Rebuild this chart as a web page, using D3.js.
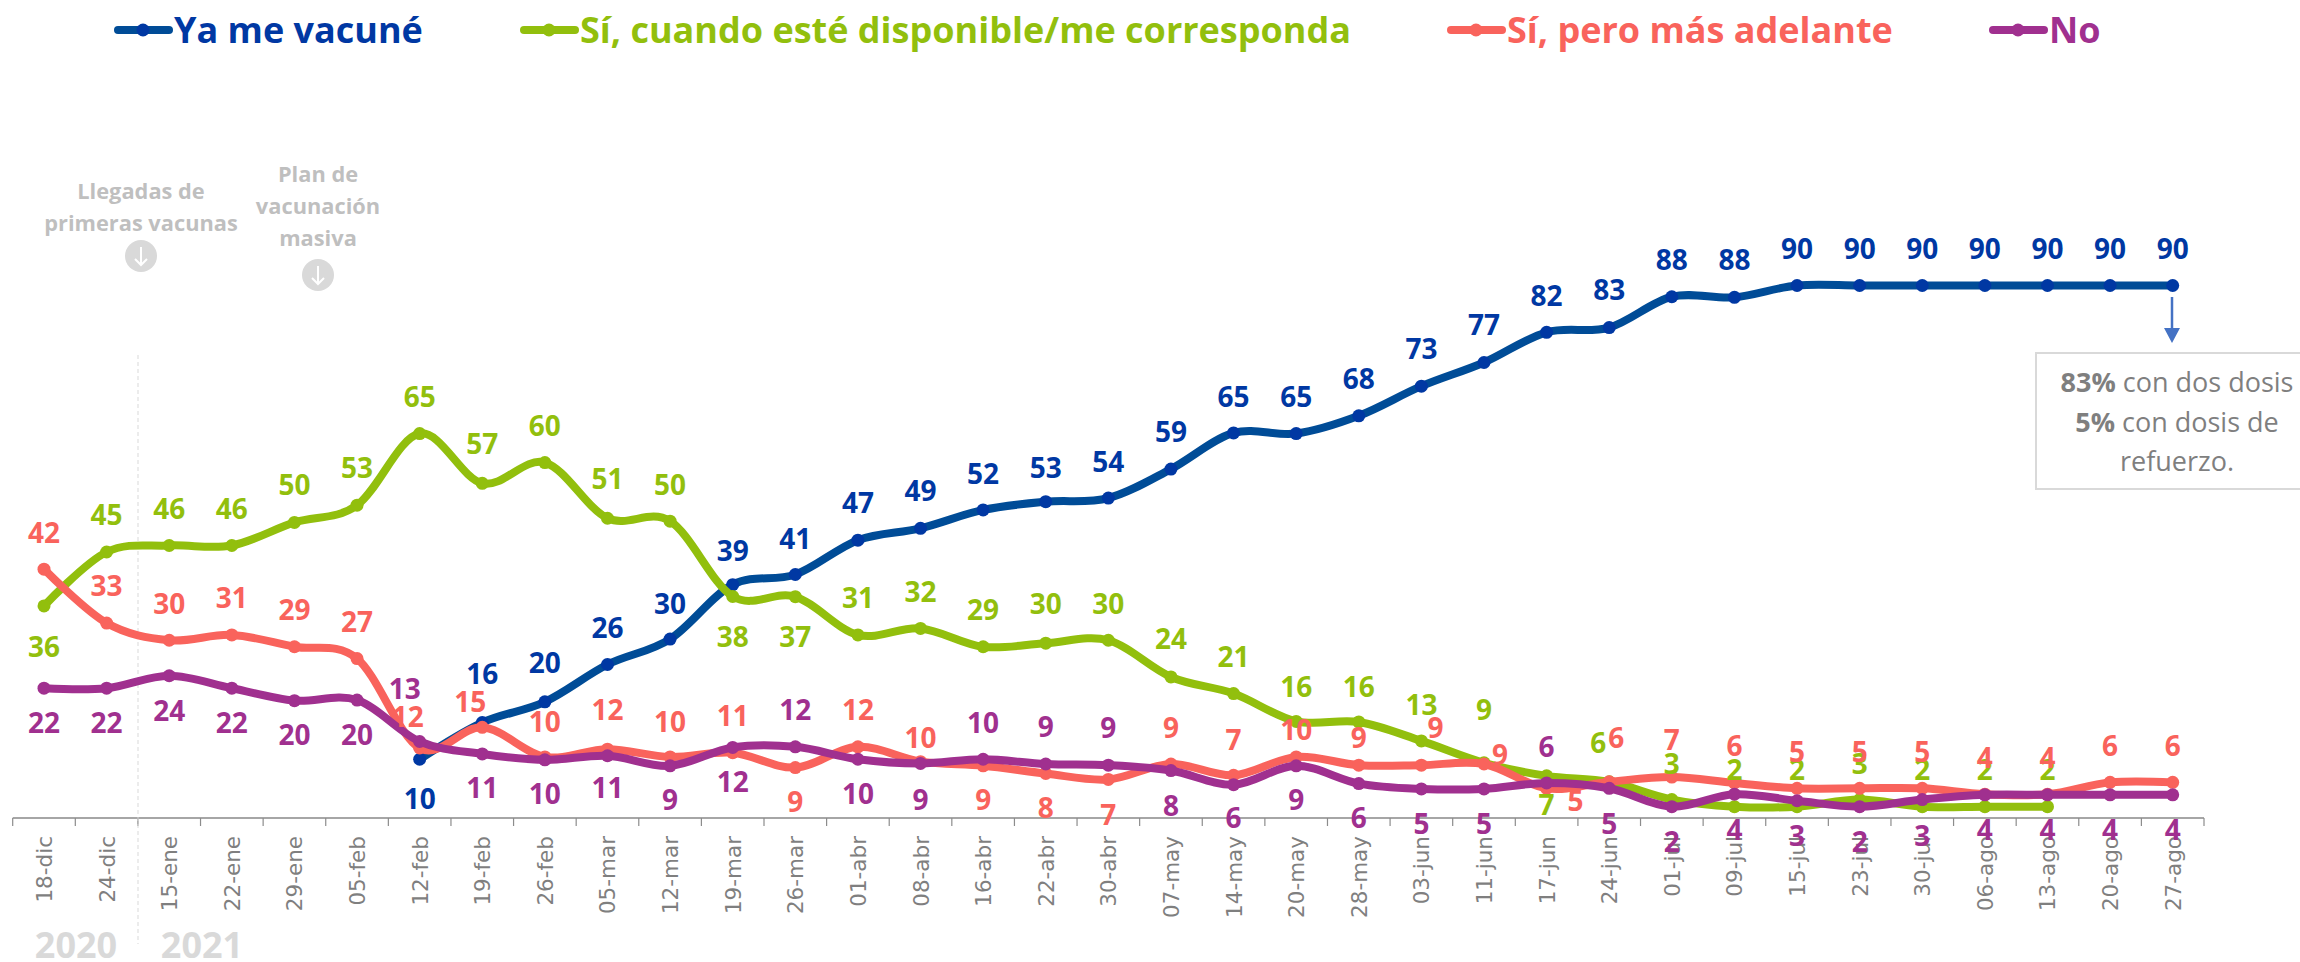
<!DOCTYPE html>
<html><head><meta charset="utf-8">
<script src="https://cdn.jsdelivr.net/npm/d3@7/dist/d3.min.js"></script>
<style>html,body{margin:0;padding:0;background:#fff}svg{display:block}</style></head>
<body><svg id="c" width="2300" height="962"></svg>
<script>
const categories=["18-dic","24-dic","15-ene","22-ene","29-ene","05-feb","12-feb","19-feb","26-feb","05-mar","12-mar","19-mar","26-mar","01-abr","08-abr","16-abr","22-abr","30-abr","07-may","14-may","20-may","28-may","03-jun","11-jun","17-jun","24-jun","01-jul","09-jul","15-jul","23-jul","30-jul","06-ago","13-ago","20-ago","27-ago"];
const vacunado=[null,null,null,null,null,null,10,16.2,19.7,26,30.3,39.49,41.2,47,49,52.1,53.49,54.1,59,65.1,65,68,73,77,82.1,82.9,88.1,88,90,90,90,90,90,90,90];
const disponible=[35.9,45,46.1,46.1,50,52.9,65,56.6,60.1,50.7,50.2,37.5,37.45,31,32.1,29,29.6,30.1,23.9,21.1,16.4,16.3,13.1,9.4,7.2,6.2,3.2,2,2,3.2,2,2,2,null,null];
const adelante=[42.1,33,30.1,31,29,27,11.9,15.4,10.4,11.7,10.4,11.1,8.6,12.1,9.6,8.9,7.6,6.6,9.2,7.3,10.4,9,9,9.2,5.1,6.2,7,6,5.1,5.1,5.1,4.1,4.1,6.1,6.1];
const no=[22,22,24.1,22,19.9,20,13,10.9,9.9,10.6,8.9,12,12.1,10,9.3,10,9.2,9,8.1,5.7,8.9,5.9,5,5,6,5.1,2,4.1,3,2,3.2,4,4,4,4];
const seriesNames=["Ya me vacuné","Sí, cuando esté disponible/me corresponda","Sí, pero más adelante","No"];
const lineColors=["#004c97","#92bf0d","#f9635c","#a0308f"];
const dotColors=["#0038a3","#92bf0d","#f9635c","#a0308f"];
const F='"Open Sans",sans-serif';

// label placement, px from each point: default, then index -> [dx,dy]
const labelPlace=[
 {d:-37,o:{6:[0,40],7:[0,-50]}},
 {d:-37,o:{0:[0,42],11:[0,44],12:[0,38],23:[0,-55],24:[0,28],25:[-11,-40]}},
 {d:-37,o:{6:[-12,-30],7:[-12,-28],12:[0,37],14:[0,-21],15:[0,35],16:[0,37],17:[0,38],20:[0,-29],21:[0,-27],22:[14,-37],23:[16,-10],24:[29,12],25:[7,-45]}},
 {d:35,o:{6:[-15,-53],12:[0,-37],15:[0,-36],16:[0,-38],17:[0,-37],24:[0,-36]}}
];

const svg=d3.select("#c");
const x=d3.scaleBand().domain(categories).range([12.7,2204]);
const y=d3.scaleLinear().domain([0,90]).range([818.5,285.5]);
const px=c=>x(c)+x.bandwidth()/2;

// axis
const ax=svg.append("g").attr("transform","translate(0,818)");
const tickEdges=categories.map(c=>x(c)).concat([x.range()[1]]);
ax.append("line").attr("x1",x.range()[0]).attr("x2",x.range()[1]).attr("stroke","#a6a6a6").attr("stroke-width",2);
ax.selectAll("line.t").data(tickEdges).join("line").attr("class","t").attr("x1",d=>d).attr("x2",d=>d).attr("y1",0).attr("y2",8).attr("stroke","#8c8c8c").attr("stroke-width",1.2);
ax.selectAll("text").data(categories).join("text")
 .attr("transform",d=>`translate(${px(d)+8},18) rotate(-90)`)
 .attr("text-anchor","end").attr("font-family",'"DejaVu Sans",sans-serif').attr("font-size",21.5).attr("fill","#7f7f7f").text(d=>d);

// year separator and years
svg.append("line").attr("x1",138).attr("x2",138).attr("y1",355).attr("y2",944).attr("stroke","#d9d9d9").attr("stroke-width",1).attr("stroke-dasharray","4 3");
svg.selectAll("text.yr").data([["2020",76],["2021",202]]).join("text").attr("class","yr").attr("x",d=>d[1]).attr("y",958)
 .attr("text-anchor","middle").attr("font-family",F).attr("font-weight",700).attr("font-size",36).attr("fill","#d9d9d9").text(d=>d[0]);

// annotations
function note(lines,cx,ys,cy){
 lines.forEach((t,i)=>svg.append("text").attr("x",cx).attr("y",ys[i]).attr("text-anchor","middle").attr("font-family",F).attr("font-weight",700).attr("font-size",21.8).attr("fill","#bfbfbf").text(t));
 const g=svg.append("g").attr("transform",`translate(${cx},${cy})`);
 g.append("circle").attr("r",16).attr("fill","#d9d9d9");
 g.append("path").attr("d","M0,-9V9M-6,3L0,9L6,3").attr("fill","none").attr("stroke","#fff").attr("stroke-width",2);
}
note(["Llegadas de","primeras vacunas"],141,[199,231],256);
note(["Plan de","vacunación","masiva"],318,[182,214,246],275);

// lines
const allSeries=[vacunado,disponible,adelante,no];
const line=d3.line().x(d=>px(d[0])).y(d=>y(d[1])).curve(d3.curveCatmullRom.alpha(0));
allSeries.forEach((s,k)=>{
 const pts=s.map((v,i)=>[categories[i],v]).filter(d=>d[1]!=null);
 svg.append("path").attr("d",line(pts)).attr("fill","none").attr("stroke",lineColors[k]).attr("stroke-width",8).attr("stroke-linecap","round");
 svg.append("g").selectAll("circle").data(pts).join("circle").attr("cx",d=>px(d[0])).attr("cy",d=>y(d[1])).attr("r",6.5).attr("fill",dotColors[k]);
});
// labels
allSeries.forEach((s,k)=>{
 const pl=labelPlace[k];
 svg.append("g").selectAll("text").data(s.map((v,i)=>({v:Math.round(v),i,raw:v})).filter(d=>d.raw!=null)).join("text")
  .attr("x",d=>px(categories[d.i])+(pl.o[d.i]?pl.o[d.i][0]:0))
  .attr("y",d=>y(d.v)+(pl.o[d.i]?pl.o[d.i][1]:pl.d)+10)
  .attr("text-anchor","middle").attr("font-family",F).attr("font-weight",700).attr("font-size",28).attr("fill",dotColors[k]).text(d=>d.v);
});

// legend
const legendX=[172,578,1505,2047];
seriesNames.forEach((n,k)=>{
 const g=svg.append("g").attr("transform",`translate(${legendX[k]},30)`);
 g.append("line").attr("x1",-54).attr("x2",-3).attr("stroke",lineColors[k]).attr("stroke-width",8).attr("stroke-linecap","round");
 g.append("circle").attr("cx",-29).attr("r",6.5).attr("fill",dotColors[k]);
 g.append("text").attr("x",2).attr("y",13).attr("font-family",F).attr("font-weight",700).attr("font-size",36).attr("fill",k==0?"#0038a3":dotColors[k]).text(n);
});

// callout
svg.append("line").attr("x1",2172).attr("x2",2172).attr("y1",297).attr("y2",330).attr("stroke","#4472c4").attr("stroke-width",2.5);
svg.append("path").attr("d","M2164,328H2180L2172,343Z").attr("fill","#4472c4");
svg.append("rect").attr("x",2036).attr("y",353).attr("width",300).attr("height",136).attr("fill","#fff").attr("stroke","#d9d9d9").attr("stroke-width",2);
[[["83%",1],[" con dos dosis",0]],[["5%",1],[" con dosis de",0]],[["refuerzo.",0]]].forEach((ln,i)=>{
 const t=svg.append("text").attr("x",2177).attr("y",392+i*39.5).attr("text-anchor","middle").attr("font-family",F).attr("font-size",27).attr("fill","#7f7f7f");
 ln.forEach(p=>t.append("tspan").attr("font-weight",p[1]?700:400).text(p[0]));
});
</script></body></html>
